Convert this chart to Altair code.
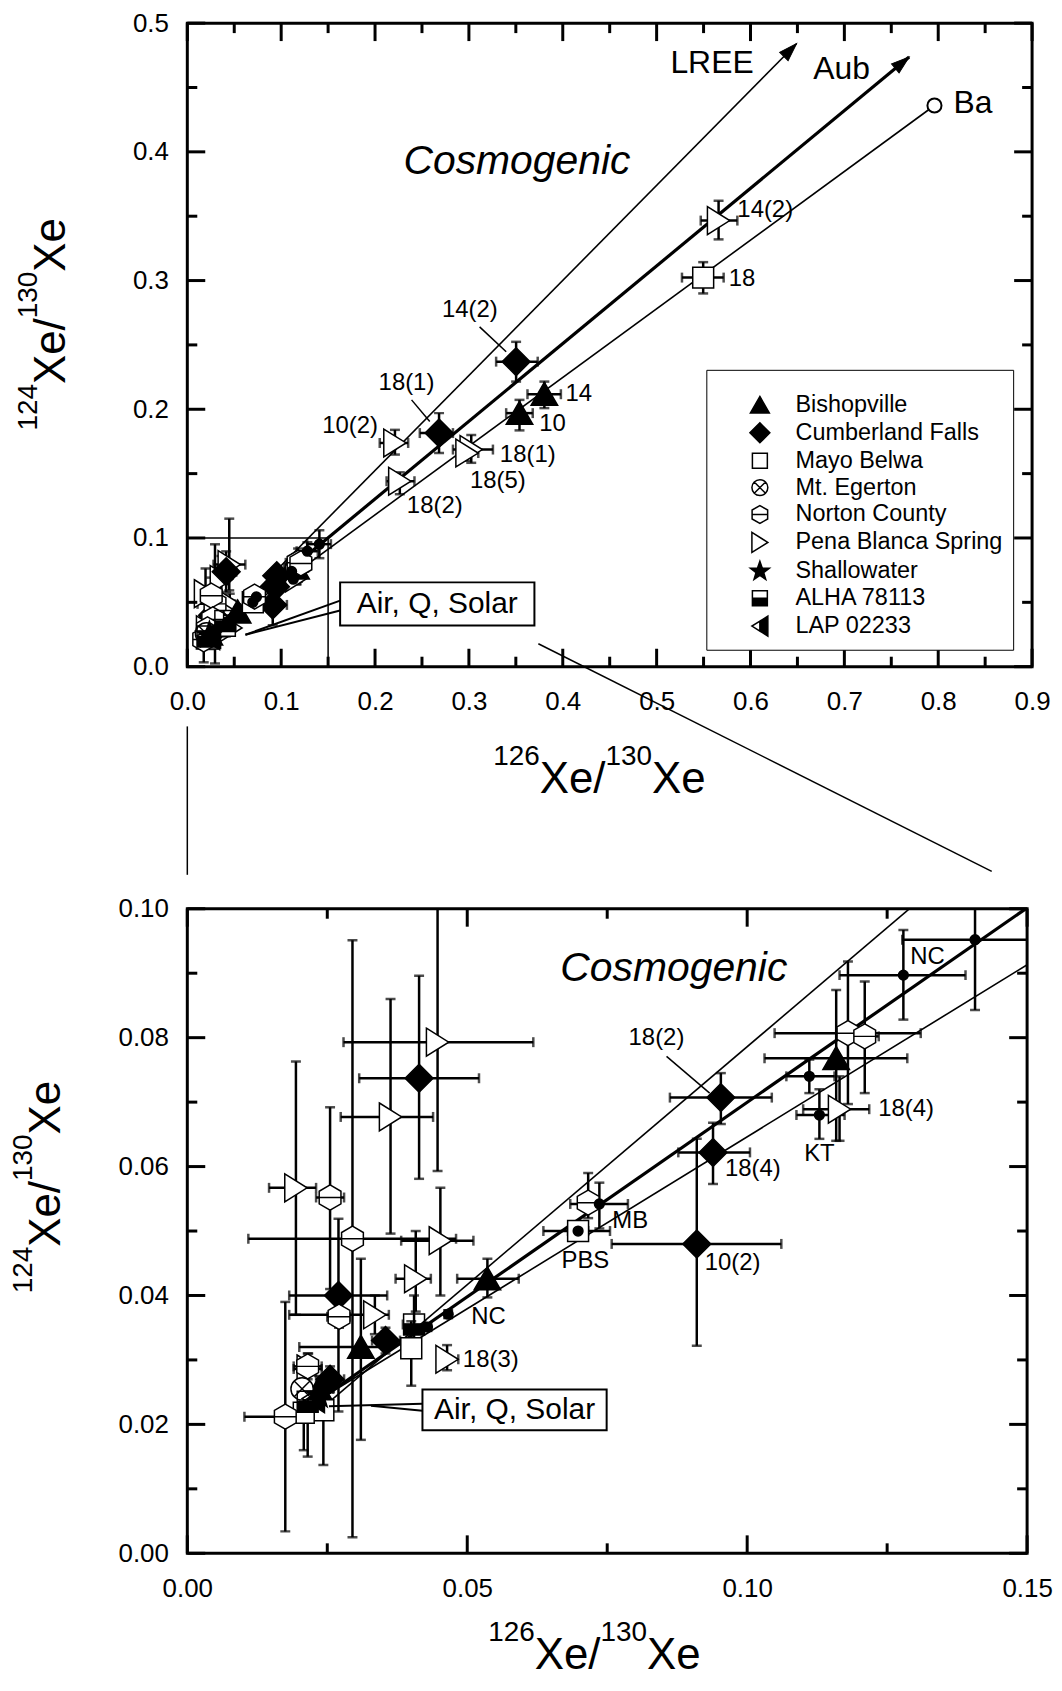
import math
import altair as alt
import pandas as pd

FONT = "Liberation Sans"

# ---------------- data: measured points ----------------
pt_series = [
    # points only visible in the upper (full-range) panel
    "Pena Blanca Spring", "Mayo Belwa", "Cumberland Falls", "Cumberland Falls",
    "Bishopville", "Bishopville", "Pena Blanca Spring", "Pena Blanca Spring",
    "Pena Blanca Spring", "Pena Blanca Spring",
    # Pena Blanca Spring (low ratios)
    "Pena Blanca Spring", "Pena Blanca Spring", "Pena Blanca Spring", "Pena Blanca Spring",
    "Pena Blanca Spring", "Pena Blanca Spring", "Pena Blanca Spring", "Pena Blanca Spring",
    "Pena Blanca Spring",
    # Cumberland Falls
    "Cumberland Falls", "Cumberland Falls", "Cumberland Falls", "Cumberland Falls",
    "Cumberland Falls", "Cumberland Falls", "Cumberland Falls",
    # Bishopville
    "Bishopville", "Bishopville", "Bishopville", "Bishopville",
    # Mayo Belwa
    "Mayo Belwa", "Mayo Belwa", "Mayo Belwa", "Mayo Belwa",
    # Norton County
    "Norton County", "Norton County", "Norton County", "Norton County",
    "Norton County", "Norton County", "Norton County", "Norton County",
    # others
    "Mt. Egerton", "Shallowater", "ALHA 78113", "ALHA 78113", "LAP 02233",
    # literature values (small dots)
    "Literature", "Literature", "Literature", "Literature",
    "Literature", "Literature", "Literature", "Literature",
]
pt_x = [0.566, 0.5496, 0.3503, 0.2682, 0.3804, 0.3539, 0.2212, 0.3025, 0.298, 0.2264,
        0.0447, 0.0363, 0.0194, 0.0452, 0.0408, 0.0464, 0.1165, 0.0335, 0.0216,
        0.0414, 0.027, 0.0354, 0.0255, 0.0953, 0.0939, 0.091,
        0.0536, 0.031, 0.1159, 0.0235,
        0.0698, 0.040, 0.0243, 0.0208,
        0.0295, 0.0255, 0.0175, 0.0271, 0.0716, 0.118, 0.121, 0.0215,
        0.0205, 0.0235, 0.0405, 0.0215, 0.0225,
        0.1407, 0.1279, 0.1111, 0.1129, 0.0736, 0.0698, 0.0466, 0.0429]
pt_y = [0.3466, 0.3023, 0.237, 0.1815, 0.2117, 0.197, 0.1738, 0.1687, 0.166, 0.1441,
        0.0793, 0.0677, 0.0567, 0.0485, 0.0426, 0.0301, 0.0689, 0.037, 0.0286,
        0.0737, 0.040, 0.033, 0.027, 0.0707, 0.0622, 0.048,
        0.0426, 0.032, 0.0768, 0.0255,
        0.050, 0.0318, 0.0222, 0.0218,
        0.0488, 0.0552, 0.0212, 0.0367, 0.0544, 0.0807, 0.0802, 0.029,
        0.0255, 0.0245, 0.0355, 0.0235, 0.024,
        0.0952, 0.0897, 0.074, 0.068, 0.0542, 0.050, 0.0371, 0.0351]
pt_xlo = [0.547, 0.527, 0.329, 0.2477, 0.3624, 0.3397, 0.205, 0.283, 0.29, 0.2123,
          0.0279, 0.0274, 0.0146, 0.0382, 0.0372, 0.0447, 0.110, 0.0182, 0.019,
          0.0307, 0.0182, 0.033, 0.023, 0.0862, 0.0877, 0.0758,
          0.0482, 0.020, 0.1031, 0.021,
          0.068, 0.0385, 0.0235, 0.0195,
          0.0109, 0.023, 0.0102, 0.025, 0.070, 0.1049, 0.1185, 0.019,
          0.019, 0.022, 0.0385, 0.020, 0.021,
          0.1277, 0.1165, 0.107, 0.1088, 0.0684, 0.0636, 0.046, 0.0423]
pt_xhi = [0.586, 0.5714, 0.3733, 0.283, 0.398, 0.368, 0.2353, 0.3256, 0.31, 0.242,
          0.0618, 0.0439, 0.023, 0.0511, 0.0435, 0.0484, 0.1218, 0.036, 0.024,
          0.0521, 0.0357, 0.038, 0.028, 0.1044, 0.1005, 0.1061,
          0.0592, 0.036, 0.1286, 0.026,
          0.0716, 0.0415, 0.025, 0.022,
          0.048, 0.028, 0.022, 0.029, 0.073, 0.131, 0.1235, 0.024,
          0.022, 0.025, 0.0425, 0.023, 0.024,
          0.153, 0.139, 0.1156, 0.1174, 0.0787, 0.0755, 0.0472, 0.0435]
pt_ylo = [0.332, 0.290, 0.2215, 0.166, 0.2009, 0.1836, 0.1648, 0.1584, 0.160, 0.134,
          0.0593, 0.0496, 0.037, 0.040, 0.0375, 0.0284, 0.064, 0.034, 0.026,
          0.0581, 0.022, 0.031, 0.025, 0.0666, 0.0573, 0.0322,
          0.0397, 0.0176, 0.064, 0.0235,
          0.049, 0.026, 0.0137, 0.016,
          0.0025, 0.041, 0.0034, 0.035, 0.052, 0.0697, 0.0714, 0.027,
          0.024, 0.023, 0.032, 0.015, 0.0225,
          0.0843, 0.0828, 0.0714, 0.0643, 0.0504, 0.0495, 0.0365, 0.0345]
pt_yhi = [0.362, 0.3143, 0.2524, 0.197, 0.2215, 0.2073, 0.184, 0.180, 0.172, 0.151,
          0.115, 0.086, 0.0763, 0.0567, 0.050, 0.0323, 0.074, 0.040, 0.031,
          0.0896, 0.0519, 0.035, 0.029, 0.0745, 0.0668, 0.0643,
          0.0457, 0.0457, 0.0874, 0.0275,
          0.051, 0.036, 0.024, 0.024,
          0.0951, 0.0692, 0.039, 0.038, 0.059, 0.0918, 0.0887, 0.031,
          0.027, 0.026, 0.040, 0.025, 0.0255,
          0.106, 0.0967, 0.0766, 0.072, 0.0575, 0.0505, 0.0377, 0.0357]

# ---------------- mixing lines (Air/Q/Solar -> cosmogenic end members) ----------------
line_name = ["LREE", "Aub", "Ba"]
line_x0 = [0.022, 0.022, 0.022]
line_y0 = [0.021, 0.0229, 0.023]
line_x1 = [0.649, 0.769, 0.796]
line_y1 = [0.484, 0.4737, 0.436]
line_w = [1.6, 3.2, 1.6]

# ---------------- annotations ----------------
top_lab_text = ["14(2)", "18(1)", "14", "10", "10(2)", "18(1)", "18(5)", "18(2)", "14(2)", "18"]
top_lab_x = [0.301, 0.2335, 0.417, 0.389, 0.1734, 0.3627, 0.3309, 0.2636, 0.6157, 0.591]
top_lab_y = [0.277, 0.2203, 0.212, 0.1888, 0.1872, 0.1648, 0.1441, 0.1248, 0.3549, 0.3015]
top_lead_x0 = [0.3114, 0.2389]
top_lead_y0 = [0.264, 0.2073]
top_lead_x1 = [0.3397, 0.2583]
top_lead_y1 = [0.2447, 0.1905]

bot_lab_text = ["NC", "18(2)", "18(4)", "KT", "18(4)", "MB", "PBS", "10(2)", "NC", "18(3)"]
bot_lab_x = [0.1322, 0.0838, 0.1284, 0.1129, 0.101, 0.0791, 0.0711, 0.0974, 0.0538, 0.0542]
bot_lab_y = [0.0925, 0.0799, 0.0689, 0.0619, 0.0596, 0.0516, 0.0454, 0.045, 0.0367, 0.030]
bot_lead_x0 = [0.0856]
bot_lead_y0 = [0.0771]
bot_lead_x1 = [0.0933]
bot_lead_y1 = [0.0714]

end_lab_text = ["LREE", "Aub", "Ba"]
end_lab_x = [0.559, 0.697, 0.837]
end_lab_y = [0.469, 0.464, 0.438]

air_text = "Air, Q, Solar"
top_air_box = [0.1628, 0.3698, 0.032, 0.0655]
top_air_lead_x0 = [0.1628, 0.1628]
top_air_lead_y0 = [0.0513, 0.0436]
top_air_lead_x1 = [0.0619, 0.0619]
top_air_lead_y1 = [0.0248, 0.0248]
bot_air_box = [0.042, 0.0749, 0.0191, 0.0254]
bot_air_lead_x0 = [0.042, 0.042]
bot_air_lead_y0 = [0.0232, 0.0221]
bot_air_lead_x1 = [0.0253, 0.0328]
bot_air_lead_y1 = [0.0228, 0.0229]

cosmo_top = [0.3512, 0.3918]
cosmo_bot = [0.0869, 0.0907]

zoom_box = [0.0, 0.15, 0.0, 0.1]
conn_x0 = [0.0, 0.374]
conn_y0 = [-0.0464, 0.0178]
conn_x1 = [0.0, 0.857]
conn_y1 = [-0.1617, -0.159]

# ---------------- ticks ----------------
TOP_X_MAJOR = [0.0, 0.1, 0.2, 0.3, 0.4, 0.5, 0.6, 0.7, 0.8, 0.9]
TOP_X_MINOR = [0.05, 0.15, 0.25, 0.35, 0.45, 0.55, 0.65, 0.75, 0.85]
TOP_Y_MAJOR = [0.0, 0.1, 0.2, 0.3, 0.4, 0.5]
TOP_Y_MINOR = [0.05, 0.15, 0.25, 0.35, 0.45]
BOT_X_MAJOR = [0.0, 0.05, 0.10, 0.15]
BOT_X_MINOR = [0.025, 0.075, 0.125]
BOT_Y_MAJOR = [0.0, 0.02, 0.04, 0.06, 0.08, 0.10]
BOT_Y_MINOR = [0.01, 0.03, 0.05, 0.07, 0.09]

# axis titles: pieces (text, is_superscript)
X_TITLE = [("126", True), ("Xe/", False), ("130", True), ("Xe", False)]
Y_TITLE = [("124", True), ("Xe/", False), ("130", True), ("Xe", False)]

# ---------------- symbols ----------------
def star_path():
    pts = []
    for i in range(10):
        r = 1.0 if i % 2 == 0 else 0.4
        a = math.radians(-90 + 36 * i)
        pts.append((r * math.cos(a), r * math.sin(a)))
    return "M" + "L".join(f"{x:.3f},{y:.3f}" for x, y in pts) + "Z"

SERIES = ["Bishopville", "Cumberland Falls", "Mayo Belwa", "Mt. Egerton", "Norton County",
          "Pena Blanca Spring", "Shallowater", "ALHA 78113", "LAP 02233", "Literature"]
SHAPES = [
    "M0,-0.85L0.95,0.8L-0.95,0.8Z",
    "M0,-1L1,0L0,1L-1,0Z",
    "M-0.75,-0.75L0.75,-0.75L0.75,0.75L-0.75,0.75Z",
    "M0.8,0A0.8,0.8,0,1,1,-0.8,0A0.8,0.8,0,1,1,0.8,0ZM-0.566,-0.566L0.566,0.566M-0.566,0.566L0.566,-0.566",
    "M0,-0.9L0.78,-0.45L0.78,0.45L0,0.9L-0.78,0.45L-0.78,-0.45ZM-0.78,0L0.78,0",
    "M-0.8,-1L0.8,0L-0.8,1Z",
    star_path(),
    "M-0.75,-0.75L0.75,-0.75L0.75,0.75L-0.75,0.75ZM-0.75,-0.75L-0.75,0L0.75,0L0.75,-0.75Z",
    "M0.8,-1L0.8,1L-0.8,0ZM0,-0.5L-0.8,0L0,0.5Z",
    "M0.35,0A0.35,0.35,0,1,1,-0.35,0A0.35,0.35,0,1,1,0.35,0Z",
]
FILLS = ["black", "black", "white", "white", "white", "white", "black", "black", "black", "black"]
STROKES = ["black"] * len(SERIES)
ARROW = "M0,0L0.33,1L-0.33,1Z"

# ---------------- tables ----------------
pts = pd.DataFrame({"series": pt_series, "x": pt_x, "y": pt_y,
                    "xlo": pt_xlo, "xhi": pt_xhi, "ylo": pt_ylo, "yhi": pt_yhi})
capx = pd.DataFrame({"cx": pt_xlo + pt_xhi, "cy": pt_y + pt_y})
capy = pd.DataFrame({"cx": pt_x + pt_x, "cy": pt_ylo + pt_yhi})
lines = pd.DataFrame({"name": line_name, "x0": line_x0, "y0": line_y0,
                      "x1": line_x1, "y1": line_y1, "w": line_w})
one_row = pd.DataFrame({"k": [0]})

TW, TH = 848, 646
BW, BH = 843, 647
MAIN_FS, SUP_FS, SUP_RAISE = 44, 28, 28
ADV = {"0": 0.556, "1": 0.556, "2": 0.556, "3": 0.556, "4": 0.556, "6": 0.556,
       "X": 0.667, "e": 0.556, "/": 0.278}


def text_width(t, fs):
    return sum(ADV.get(c, 0.556) for c in t) * fs


def arrow_angle(i):
    dx = (line_x1[i] - line_x0[i]) / 0.9 * TW
    dy = (line_y1[i] - line_y0[i]) / 0.5 * TH
    return math.degrees(math.atan2(dx, dy))


arrows = pd.DataFrame({"x": line_x1[:2], "y": line_y1[:2],
                       "angle": [arrow_angle(0), arrow_angle(1)]})
ba_end = pd.DataFrame({"x": [line_x1[2]], "y": [line_y1[2]]})


def segs(x0, y0, x1, y1):
    return pd.DataFrame({"x0": x0, "y0": y0, "x1": x1, "y1": y1})


LEGEND_TOP = alt.Legend(
    title=" ", titleFontSize=13.5, titlePadding=0,
    orient="none", legendX=521, legendY=348, direction="vertical",
    values=SERIES[:9], padding=10, strokeColor="black", fillColor="white",
    labelFont=FONT, labelFontSize=23.5, labelColor="black", labelLimit=400,
    symbolSize=400, symbolStrokeWidth=1.5, symbolStrokeColor="black",
    rowPadding=2, symbolOffset=32, labelOffset=24,
)


def title_layers(pieces, horizontal, start, base):
    """Axis title drawn as text pieces with raised superscripts."""
    out = []
    pos = start
    for t, sup in pieces:
        fs = SUP_FS if sup else MAIN_FS
        off = base - SUP_RAISE if sup else base
        if horizontal:
            enc = dict(x=alt.value(pos), y=alt.value(off))
            ang = 0
            pos += text_width(t, fs)
        else:
            enc = dict(x=alt.value(off), y=alt.value(pos))
            ang = 270
            pos -= text_width(t, fs)
        out.append(alt.Chart(one_row).mark_text(
            text=t, font=FONT, fontSize=fs, color="black", align="left",
            baseline="alphabetic", angle=ang).encode(**enc))
    return out


def panel(top):
    if top:
        W, H = TW, TH
        xdom, ydom = [0, 0.9], [0, 0.5]
        xmaj, xmin_, ymaj, ymin_ = TOP_X_MAJOR, TOP_X_MINOR, TOP_Y_MAJOR, TOP_Y_MINOR
        fmt = ".1f"
        clip = False
        xt_start, xt_base = 307, H + 127
        yt_start, yt_base = 409, -123
    else:
        W, H = BW, BH
        xdom, ydom = [0, 0.15], [0, 0.10]
        xmaj, xmin_, ymaj, ymin_ = BOT_X_MAJOR, BOT_X_MINOR, BOT_Y_MAJOR, BOT_Y_MINOR
        fmt = ".2f"
        clip = True
        xt_start, xt_base = 302, H + 116
        yt_start, yt_base = 386, -128

    xs = alt.Scale(domain=xdom, nice=False, zero=False)
    ys = alt.Scale(domain=ydom, nice=False, zero=False)
    xax = alt.Axis(values=xmaj, format=fmt, ticks=False, tickSize=0, domain=False, grid=False,
                   labelPadding=22, labelFlush=False, labelOverlap=False, labelFontSize=26)
    yax = alt.Axis(values=ymaj, format=fmt, ticks=False, tickSize=0, domain=False, grid=False,
                   labelPadding=19, labelFlush=False, labelOverlap=False, labelFontSize=26)

    def X(f):
        return alt.X(f, type="quantitative", scale=xs, axis=xax, title=None)

    def Y(f):
        return alt.Y(f, type="quantitative", scale=ys, axis=yax, title=None)

    layers = []
    base_rule = dict(color="black", clip=clip)

    if top:
        zb = pd.DataFrame({"a": [zoom_box[0]], "b": [zoom_box[1]], "c": [zoom_box[2]], "d": [zoom_box[3]]})
        layers.append(alt.Chart(zb).mark_rect(fillOpacity=0, stroke="black", strokeWidth=1.5).encode(
            x=X("a"), x2="b", y=Y("c"), y2="d"))

    # mixing lines
    layers.append(alt.Chart(lines).mark_rule(**base_rule).encode(
        x=X("x0"), y=Y("y0"), x2="x1", y2="y1",
        strokeWidth=alt.StrokeWidth("w:Q", scale=None)))

    # error bars
    layers.append(alt.Chart(pts).mark_rule(strokeWidth=2.5, **base_rule).encode(
        x=X("xlo"), x2="xhi", y=Y("y")))
    layers.append(alt.Chart(pts).mark_rule(strokeWidth=2.5, **base_rule).encode(
        x=X("x"), y=Y("ylo"), y2="yhi"))
    layers.append(alt.Chart(capx).mark_tick(orient="vertical", size=10, thickness=2.5, **base_rule).encode(
        x=X("cx"), y=Y("cy")))
    layers.append(alt.Chart(capy).mark_tick(orient="horizontal", size=10, thickness=2.5, **base_rule).encode(
        x=X("cx"), y=Y("cy")))

    # markers
    leg = LEGEND_TOP if top else None
    layers.append(alt.Chart(pts).mark_point(size=784, strokeWidth=1.5, opacity=1,
                                            fillOpacity=1, clip=clip).encode(
        x=X("x"), y=Y("y"),
        shape=alt.Shape("series:N", scale=alt.Scale(domain=SERIES, range=SHAPES), legend=leg),
        fill=alt.Fill("series:N", scale=alt.Scale(domain=SERIES, range=FILLS), legend=leg),
        stroke=alt.Stroke("series:N", scale=alt.Scale(domain=SERIES, range=STROKES), legend=leg),
    ))

    # "Air, Q, Solar" box with leaders
    if top:
        box, lx0, ly0, lx1, ly1 = top_air_box, top_air_lead_x0, top_air_lead_y0, top_air_lead_x1, top_air_lead_y1
    else:
        box, lx0, ly0, lx1, ly1 = bot_air_box, bot_air_lead_x0, bot_air_lead_y0, bot_air_lead_x1, bot_air_lead_y1
    layers.append(alt.Chart(segs(lx0, ly0, lx1, ly1)).mark_rule(strokeWidth=2, **base_rule).encode(
        x=X("x0"), y=Y("y0"), x2="x1", y2="y1"))
    bdf = pd.DataFrame({"a": [box[0]], "b": [box[1]], "c": [box[2]], "d": [box[3]],
                        "tx": [(box[0] + box[1]) / 2], "ty": [(box[2] + box[3]) / 2], "t": [air_text]})
    layers.append(alt.Chart(bdf).mark_rect(fill="white", stroke="black", strokeWidth=2).encode(
        x=X("a"), x2="b", y=Y("c"), y2="d"))
    layers.append(alt.Chart(bdf).mark_text(font=FONT, fontSize=30, color="black").encode(
        x=X("tx"), y=Y("ty"), text="t:N"))

    # point labels
    if top:
        lab = pd.DataFrame({"t": top_lab_text, "x": top_lab_x, "y": top_lab_y})
        lead = segs(top_lead_x0, top_lead_y0, top_lead_x1, top_lead_y1)
        cz = cosmo_top
    else:
        lab = pd.DataFrame({"t": bot_lab_text, "x": bot_lab_x, "y": bot_lab_y})
        lead = segs(bot_lead_x0, bot_lead_y0, bot_lead_x1, bot_lead_y1)
        cz = cosmo_bot
    layers.append(alt.Chart(lead).mark_rule(strokeWidth=1.5, **base_rule).encode(
        x=X("x0"), y=Y("y0"), x2="x1", y2="y1"))
    layers.append(alt.Chart(lab).mark_text(font=FONT, fontSize=24, color="black").encode(
        x=X("x"), y=Y("y"), text="t:N"))
    layers.append(alt.Chart(pd.DataFrame({"x": [cz[0]], "y": [cz[1]], "t": ["Cosmogenic"]})).mark_text(
        font=FONT, fontSize=41, fontStyle="italic", color="black").encode(x=X("x"), y=Y("y"), text="t:N"))

    if top:
        layers.append(alt.Chart(arrows).mark_point(shape=ARROW, size=1296, filled=True, fill="black",
                                                   stroke="black", strokeWidth=1, opacity=1).encode(
            x=X("x"), y=Y("y"), angle=alt.Angle("angle:Q", scale=None)))
        layers.append(alt.Chart(ba_end).mark_point(shape="circle", size=200, fill="white", filled=True,
                                                   stroke="black", strokeWidth=2, opacity=1).encode(
            x=X("x"), y=Y("y")))
        el = pd.DataFrame({"t": end_lab_text, "x": end_lab_x, "y": end_lab_y})
        layers.append(alt.Chart(el).mark_text(font=FONT, fontSize=32, color="black").encode(
            x=X("x"), y=Y("y"), text="t:N"))
        layers.append(alt.Chart(segs(conn_x0, conn_y0, conn_x1, conn_y1)).mark_rule(
            color="black", strokeWidth=1.5).encode(x=X("x0"), y=Y("y0"), x2="x1", y2="y1"))

    # inward ticks on all four sides
    def tick_layers(vals, length, axis):
        d = pd.DataFrame({"v": vals})
        out = []
        if axis == "x":
            out.append(alt.Chart(d).mark_rule(color="black", strokeWidth=3).encode(
                x=X("v"), y=alt.value(H), y2=alt.value(H - length)))
            out.append(alt.Chart(d).mark_rule(color="black", strokeWidth=3).encode(
                x=X("v"), y=alt.value(0), y2=alt.value(length)))
        else:
            out.append(alt.Chart(d).mark_rule(color="black", strokeWidth=3).encode(
                y=Y("v"), x=alt.value(0), x2=alt.value(length)))
            out.append(alt.Chart(d).mark_rule(color="black", strokeWidth=3).encode(
                y=Y("v"), x=alt.value(W), x2=alt.value(W - length)))
        return out

    layers += tick_layers(xmaj, 18, "x") + tick_layers(xmin_, 10, "x")
    layers += tick_layers(ymaj, 18, "y") + tick_layers(ymin_, 10, "y")

    # axis titles with superscript mass numbers
    layers += title_layers(X_TITLE, True, xt_start, xt_base)
    layers += title_layers(Y_TITLE, False, yt_start, yt_base)

    return alt.layer(*layers).properties(width=W, height=H)


chart = alt.vconcat(panel(True), panel(False), spacing=16).resolve_scale(
    x="independent", y="independent", shape="independent", fill="independent", stroke="independent"
).resolve_legend(shape="independent", fill="independent", stroke="independent").properties(
    padding={"left": 0, "top": -3, "right": 0, "bottom": -1}
).configure_view(stroke="black", strokeWidth=3).configure_axis(
    labelFont=FONT, titleFont=FONT, labelColor="black", titleColor="black", titleFontWeight="normal"
)

chart.save("out.html", embed_options={"renderer": "svg", "actions": False})
